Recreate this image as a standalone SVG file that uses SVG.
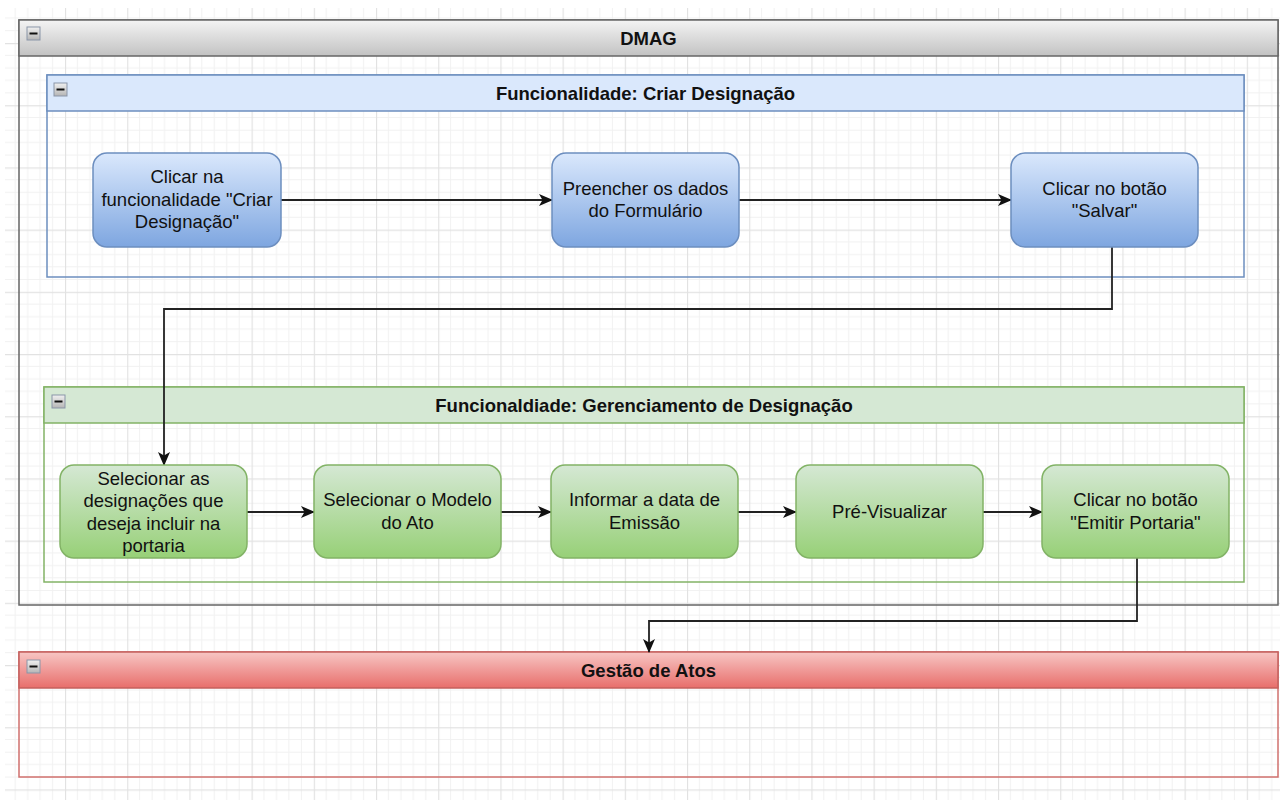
<svg xmlns="http://www.w3.org/2000/svg" width="1280" height="800" viewBox="0 0 1280 800">
<style>
text{font-family:"Liberation Sans",Arial,sans-serif;font-size:18.5px;fill:#111;text-anchor:middle}
.h{font-weight:bold}
.bn{fill:url(#gb);stroke:#6c8ebf;stroke-width:1.5}
.gn{fill:url(#gg);stroke:#82b366;stroke-width:1.5}
.edge{fill:none;stroke:#222;stroke-width:1.8}
.ic{fill:url(#gi);stroke:#8a95a8;stroke-width:1}
.icm{stroke:#111;stroke-width:2}
</style>
<defs>
<pattern id="grid" x="2.8" y="43" width="62.2" height="62.2" patternUnits="userSpaceOnUse">
<path d="M12.44 0V62.2M24.88 0V62.2M37.32 0V62.2M49.76 0V62.2M0 12.44H62.2M0 24.88H62.2M0 37.32H62.2M0 49.76H62.2" stroke="#f1f1f1" stroke-width="1" fill="none"/>
<path d="M0.5 0V62.2M0 0.5H62.2" stroke="#e2e2e2" stroke-width="1.3" fill="none"/>
</pattern>
<linearGradient id="gd" x1="0" y1="0" x2="0" y2="1"><stop offset="0" stop-color="#f4f4f4"/><stop offset="1" stop-color="#c2c2c2"/></linearGradient>
<linearGradient id="gr" x1="0" y1="0" x2="0" y2="1"><stop offset="0" stop-color="#f7c6c4"/><stop offset="1" stop-color="#e86e6b"/></linearGradient>
<linearGradient id="gb" x1="0" y1="0" x2="0" y2="1"><stop offset="0" stop-color="#dae8fc"/><stop offset="1" stop-color="#7ea6e0"/></linearGradient>
<linearGradient id="gg" x1="0" y1="0" x2="0" y2="1"><stop offset="0" stop-color="#d5e8d4"/><stop offset="1" stop-color="#97d077"/></linearGradient>
<linearGradient id="gi" x1="0" y1="0" x2="0" y2="1"><stop offset="0" stop-color="#f0f0f0"/><stop offset="1" stop-color="#b5b5b5"/></linearGradient>
<marker id="arr" viewBox="0 0 14 12" refX="13" refY="6" markerWidth="14" markerHeight="12" markerUnits="userSpaceOnUse" orient="auto">
<path d="M0 0L14 6L0 12L3.5 6Z" fill="#111"/>
</marker>
</defs>
<rect x="0" y="0" width="1280" height="800" fill="#fff"/>
<rect x="5" y="8" width="1275" height="792" fill="url(#grid)"/>

<g id="pool-dmag">
<rect x="19" y="20" width="1259" height="585" fill="none" stroke="#666" stroke-width="1.5"/>
<rect x="19" y="20" width="1259" height="36" fill="url(#gd)" stroke="#666" stroke-width="1.5"/>
<rect class="ic" x="27" y="27" width="13" height="13"/><line class="icm" x1="29.5" y1="33.5" x2="37.5" y2="33.5"/>
<text class="h" x="648.5" y="44.5">DMAG</text>
</g>

<g id="pool-criar">
<rect x="47" y="75" width="1197" height="202" fill="none" stroke="#6c8ebf" stroke-width="1.5"/>
<rect x="47" y="75" width="1197" height="36" fill="#dae8fc" stroke="#6c8ebf" stroke-width="1.5"/>
<rect class="ic" x="54" y="83" width="13" height="13"/><line class="icm" x1="56.5" y1="89.5" x2="64.5" y2="89.5"/>
<text class="h" x="645.5" y="99.5">Funcionalidade: Criar Designação</text>
</g>

<g id="pool-gerenciamento">
<rect x="44" y="387" width="1200" height="195" fill="none" stroke="#82b366" stroke-width="1.5"/>
<rect x="44" y="387" width="1200" height="36" fill="#d5e8d4" stroke="#82b366" stroke-width="1.5"/>
<rect class="ic" x="52" y="395" width="13" height="13"/><line class="icm" x1="54.5" y1="401.5" x2="62.5" y2="401.5"/>
<text class="h" x="644" y="411.5">Funcionaldiade: Gerenciamento de Designação</text>
</g>

<g id="pool-gestao">
<rect x="19" y="652" width="1259" height="125" fill="none" stroke="#d0706d" stroke-width="1.5"/>
<rect x="19" y="652" width="1259" height="36" fill="url(#gr)" stroke="#c5605d" stroke-width="1.5"/>
<rect class="ic" x="27" y="660" width="13" height="13"/><line class="icm" x1="29.5" y1="666.5" x2="37.5" y2="666.5"/>
<text class="h" x="648.5" y="676.5">Gestão de Atos</text>
</g>

<g id="connectors">
<path class="edge" d="M281 200H552" marker-end="url(#arr)"/>
<path class="edge" d="M739 200H1011" marker-end="url(#arr)"/>
<path class="edge" d="M1112 247V309H164V465" marker-end="url(#arr)"/>
<path class="edge" d="M247 512H314" marker-end="url(#arr)"/>
<path class="edge" d="M501 512H551" marker-end="url(#arr)"/>
<path class="edge" d="M738 512H796" marker-end="url(#arr)"/>
<path class="edge" d="M983 512H1042" marker-end="url(#arr)"/>
<path class="edge" d="M1137 558V621H649V652" marker-end="url(#arr)"/>
</g>

<g id="n-clicar-func">
<rect class="bn" x="93" y="153" width="188" height="94" rx="14"/>
<text x="187" y="183">Clicar na</text>
<text x="187" y="205.5">funcionalidade "Criar</text>
<text x="187" y="228">Designação"</text>
</g>
<g id="n-preencher">
<rect class="bn" x="552" y="153" width="187" height="94" rx="14"/>
<text x="645.5" y="194.5">Preencher os dados</text>
<text x="645.5" y="217">do Formulário</text>
</g>
<g id="n-salvar">
<rect class="bn" x="1011" y="153" width="187" height="94" rx="14"/>
<text x="1104.5" y="194.5">Clicar no botão</text>
<text x="1104.5" y="217">"Salvar"</text>
</g>

<g id="n-selecionar-desig">
<rect class="gn" x="60" y="465" width="187" height="93" rx="14"/>
<text x="153.5" y="484.5">Selecionar as</text>
<text x="153.5" y="507">designações que</text>
<text x="153.5" y="529.5">deseja incluir na</text>
<text x="153.5" y="552">portaria</text>
</g>
<g id="n-modelo">
<rect class="gn" x="314" y="465" width="187" height="93" rx="14"/>
<text x="407.5" y="506">Selecionar o Modelo</text>
<text x="407.5" y="528.5">do Ato</text>
</g>
<g id="n-data">
<rect class="gn" x="551" y="465" width="187" height="93" rx="14"/>
<text x="644.5" y="506">Informar a data de</text>
<text x="644.5" y="528.5">Emissão</text>
</g>
<g id="n-previsualizar">
<rect class="gn" x="796" y="465" width="187" height="93" rx="14"/>
<text x="889.5" y="518">Pré-Visualizar</text>
</g>
<g id="n-emitir">
<rect class="gn" x="1042" y="465" width="187" height="93" rx="14"/>
<text x="1135.5" y="506">Clicar no botão</text>
<text x="1135.5" y="528.5">"Emitir Portaria"</text>
</g>
</svg>
